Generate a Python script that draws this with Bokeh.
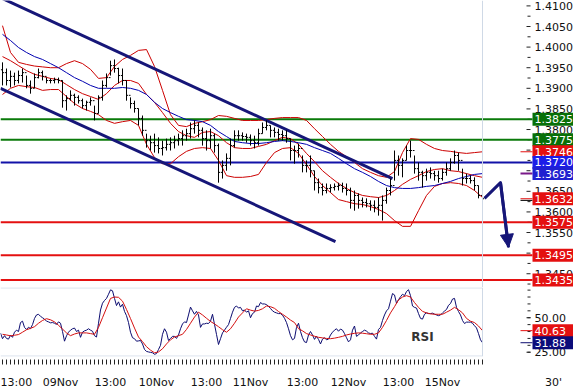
from bokeh.plotting import figure
from bokeh.models import Range1d, FixedTicker, Span, Arrow, NormalHead
from bokeh.layouts import column
from bokeh.embed import file_html
from bokeh.resources import INLINE
from bokeh.core.properties import value

FONT = "DejaVu Sans"

# ---------------- data (30-minute slots, one price bar per hour) ----------------
first_open = 1.3945
bar_high = [1.3963,1.3948,1.3943,1.3938,1.3943,1.3948,1.3931,1.3919,1.3936,1.3948,
            1.3943,1.3926,1.3924,1.3926,1.3926,1.3919,1.3883,1.3895,1.3887,1.3883,
            1.3875,1.3870,1.3878,1.3858,1.3883,1.3919,1.3936,1.3967,1.3970,1.3950,
            1.3948,1.3919,1.3878,1.3870,1.3851,1.3834,1.3790,1.3785,1.3790,1.3781,
            1.3773,1.3778,1.3781,1.3785,1.3790,1.3798,1.3802,1.3817,1.3822,1.3817,
            1.3805,1.3798,1.3802,1.3790,1.3766,1.3725,1.3742,1.3778,1.3798,1.3798,
            1.3793,1.3790,1.3788,1.3785,1.3802,1.3817,1.3822,1.3810,1.3805,1.3802,
            1.3798,1.3798,1.3778,1.3761,1.3766,1.3737,1.3725,1.3737,1.3700,1.3681,
            1.3669,1.3669,1.3667,1.3669,1.3671,1.3671,1.3669,1.3659,1.3652,1.3645,
            1.3635,1.3633,1.3628,1.3628,1.3635,1.3640,1.3659,1.3681,1.3749,1.3737,
            1.3730,1.3761,1.3773,1.3737,1.3720,1.3700,1.3705,1.3708,1.3700,1.3700,
            1.3705,1.3720,1.3730,1.3749,1.3744,1.3705,1.3693,1.3688,1.3684,1.3664,
            1.3647]
bar_low = [1.3907,1.3907,1.3902,1.3907,1.3912,1.3914,1.3900,1.3887,1.3900,1.3924,
           1.3919,1.3912,1.3912,1.3912,1.3912,1.3853,1.3846,1.3870,1.3858,1.3863,
           1.3851,1.3846,1.3858,1.3822,1.3839,1.3870,1.3902,1.3931,1.3938,1.3912,
           1.3907,1.3870,1.3851,1.3841,1.3810,1.3785,1.3756,1.3749,1.3744,1.3742,
           1.3737,1.3749,1.3749,1.3754,1.3761,1.3761,1.3773,1.3778,1.3790,1.3781,
           1.3761,1.3749,1.3754,1.3744,1.3671,1.3681,1.3700,1.3713,1.3756,1.3773,
           1.3773,1.3768,1.3761,1.3754,1.3761,1.3790,1.3798,1.3781,1.3781,1.3773,
           1.3773,1.3768,1.3725,1.3717,1.3732,1.3696,1.3696,1.3684,1.3652,1.3645,
           1.3640,1.3645,1.3647,1.3652,1.3652,1.3647,1.3640,1.3608,1.3603,1.3608,
           1.3611,1.3611,1.3603,1.3599,1.3591,1.3579,1.3620,1.3640,1.3676,1.3688,
           1.3684,1.3725,1.3732,1.3693,1.3676,1.3659,1.3676,1.3681,1.3676,1.3671,
           1.3676,1.3688,1.3700,1.3717,1.3700,1.3664,1.3669,1.3669,1.3652,1.3633,
           1.3623]
bar_close = [1.3938,1.3919,1.3929,1.3919,1.3931,1.3938,1.3907,1.3900,1.3926,1.3938,
             1.3929,1.3919,1.3919,1.3921,1.3919,1.3870,1.3875,1.3883,1.3878,1.3870,
             1.3858,1.3866,1.3870,1.3839,1.3878,1.3907,1.3926,1.3955,1.3948,1.3931,
             1.3919,1.3883,1.3863,1.3851,1.3827,1.3798,1.3773,1.3768,1.3761,1.3754,
             1.3756,1.3764,1.3768,1.3773,1.3778,1.3785,1.3790,1.3802,1.3810,1.3798,
             1.3778,1.3773,1.3785,1.3761,1.3696,1.3713,1.3730,1.3761,1.3785,1.3785,
             1.3783,1.3781,1.3773,1.3768,1.3790,1.3805,1.3810,1.3798,1.3793,1.3788,
             1.3785,1.3778,1.3749,1.3749,1.3754,1.3713,1.3713,1.3700,1.3671,1.3659,
             1.3652,1.3657,1.3659,1.3662,1.3664,1.3657,1.3652,1.3628,1.3640,1.3628,
             1.3623,1.3620,1.3616,1.3611,1.3616,1.3628,1.3652,1.3664,1.3725,1.3713,
             1.3725,1.3749,1.3749,1.3705,1.3696,1.3688,1.3696,1.3693,1.3688,1.3681,
             1.3696,1.3705,1.3720,1.3737,1.3725,1.3681,1.3681,1.3676,1.3664,1.3640,
             1.3632]

# indicator lines, read every 4th slot
upper_band = [1.4052,1.3987,1.3963,1.3958,1.3954,1.3952,1.3950,1.3950,1.3960,1.3967,
              1.3960,1.3946,1.3924,1.3926,1.3953,1.3970,1.3980,1.3992,1.3994,1.3953,
              1.3895,1.3836,1.3810,1.3807,1.3815,1.3819,1.3824,1.3834,1.3832,1.3827,
              1.3822,1.3822,1.3822,1.3824,1.3827,1.3829,1.3829,1.3829,1.3822,1.3802,
              1.3783,1.3764,1.3747,1.3734,1.3720,1.3705,1.3696,1.3688,1.3684,1.3698,
              1.3744,1.3778,1.3776,1.3764,1.3754,1.3749,1.3747,1.3744,1.3742,1.3744,
              1.3746]
mid_band = [1.3977,1.3967,1.3955,1.3943,1.3934,1.3929,1.3924,1.3921,1.3909,1.3897,
            1.3887,1.3880,1.3873,1.3887,1.3907,1.3919,1.3919,1.3912,1.3885,1.3866,
            1.3841,1.3815,1.3795,1.3785,1.3781,1.3793,1.3795,1.3785,1.3768,1.3756,
            1.3754,1.3754,1.3759,1.3764,1.3773,1.3781,1.3778,1.3764,1.3742,1.3722,
            1.3700,1.3684,1.3669,1.3657,1.3647,1.3640,1.3637,1.3635,1.3640,1.3652,
            1.3667,1.3679,1.3688,1.3698,1.3703,1.3705,1.3700,1.3698,1.3693,1.3688,
            1.3684]
lower_band = [1.3885,1.3900,1.3907,1.3904,1.3902,1.3895,1.3897,1.3897,1.3880,1.3863,
              1.3851,1.3844,1.3836,1.3822,1.3815,1.3819,1.3822,1.3810,1.3764,1.3732,
              1.3717,1.3717,1.3734,1.3747,1.3754,1.3756,1.3754,1.3725,1.3688,1.3684,
              1.3684,1.3686,1.3691,1.3720,1.3744,1.3754,1.3756,1.3742,1.3715,1.3686,
              1.3664,1.3647,1.3630,1.3625,1.3620,1.3618,1.3613,1.3606,1.3596,1.3579,
              1.3565,1.3565,1.3603,1.3640,1.3662,1.3669,1.3671,1.3669,1.3664,1.3652,
              1.3635]
ma_line = [1.4031,1.4016,1.3999,1.3987,1.3977,1.3970,1.3960,1.3950,1.3938,1.3926,
           1.3917,1.3907,1.3900,1.3900,1.3900,1.3902,1.3900,1.3895,1.3885,1.3866,
           1.3851,1.3841,1.3832,1.3824,1.3822,1.3819,1.3810,1.3795,1.3783,1.3771,
           1.3768,1.3766,1.3766,1.3768,1.3771,1.3773,1.3771,1.3768,1.3764,1.3756,
           1.3749,1.3742,1.3730,1.3717,1.3705,1.3696,1.3686,1.3674,1.3664,1.3659,
           1.3657,1.3657,1.3659,1.3662,1.3664,1.3669,1.3674,1.3681,1.3686,1.3691,
           1.3693]

# RSI (every slot) and its signal line (every 2nd slot)
rsi_values = [38.9,34.8,37.0,35.0,34.5,37.3,35.8,39.5,41.0,40.0,
              46.5,47.5,43.0,41.5,43.1,42.1,45.0,49.5,52.0,52.5,
              51.0,50.0,49.0,47.5,47.0,46.3,46.5,46.0,45.2,47.0,
              46.0,40.0,33.0,36.9,39.5,41.0,42.0,42.5,40.0,41.0,
              35.8,39.5,40.5,41.0,42.0,41.0,40.2,37.0,36.0,46.0,
              55.6,60.5,62.5,64.0,67.0,70.2,69.5,64.0,58.8,61.5,
              57.7,59.8,54.6,51.5,46.5,39.5,35.5,34.8,33.0,33.2,
              33.5,31.0,27.0,25.6,25.2,24.9,24.6,23.5,24.0,27.0,
              30.0,38.0,42.0,39.5,33.5,35.0,36.5,36.5,35.0,37.5,
              42.0,45.5,47.0,46.5,52.0,57.7,55.0,52.5,54.6,52.0,
              43.0,45.5,45.5,46.0,45.8,47.5,52.5,45.2,37.9,30.6,
              34.8,39.0,41.0,43.1,45.0,49.5,54.0,57.5,58.5,57.0,
              57.5,55.0,55.6,54.0,55.0,50.0,53.0,54.0,58.5,58.0,
              61.0,60.0,60.0,59.5,58.3,56.7,55.0,54.0,53.5,53.0,
              53.0,51.8,49.6,46.5,42.0,37.0,34.0,35.0,43.0,46.0,
              40.0,35.5,32.5,32.0,37.5,40.0,37.5,34.3,36.5,34.3,
              31.0,34.5,35.5,34.0,34.5,37.5,39.5,41.0,42.0,40.2,
              41.8,41.0,38.5,35.5,32.5,34.0,41.0,44.0,36.5,37.5,
              39.0,40.0,41.0,40.3,39.0,38.5,38.8,36.5,34.5,41.5,
              43.0,48.0,52.0,55.0,56.5,62.0,67.5,66.5,60.5,63.0,
              65.2,67.0,66.0,69.0,70.3,66.0,58.5,57.5,57.0,53.0,
              49.5,49.0,52.5,53.5,53.0,53.0,53.3,52.6,52.0,51.5,
              52.0,53.5,54.8,56.0,59.0,60.3,63.5,64.0,57.5,54.5,
              52.0,48.0,45.8,46.8,46.8,46.8,46.0,44.2,42.6,38.5,
              34.0,31.88]
rsi_signal = [38.0,37.5,36.9,37.3,37.8,39.5,41.3,42.3,43.5,46.0,
              48.0,49.3,48.5,47.0,44.5,41.8,39.0,37.0,38.2,39.0,
              39.0,39.0,38.5,38.0,43.0,50.0,57.0,64.0,65.0,64.8,
              62.0,56.0,49.4,42.5,36.0,32.7,29.0,26.5,24.6,25.2,
              27.5,31.0,34.0,36.0,37.0,38.0,41.5,46.0,50.5,54.0,
              52.0,49.6,47.3,45.5,43.5,41.3,39.5,42.0,46.0,50.5,
              53.5,56.5,55.5,54.8,55.3,56.5,58.5,58.0,56.8,54.5,
              52.5,50.5,48.3,46.5,42.1,40.5,38.5,37.5,36.6,35.8,
              35.4,35.0,34.8,35.2,35.8,36.5,37.5,38.2,38.7,39.0,
              38.8,38.4,38.0,38.0,39.0,43.0,48.0,53.5,58.0,62.9,
              65.0,66.0,65.0,61.0,57.5,54.6,53.5,52.8,52.5,52.5,
              52.5,54.0,55.5,57.5,55.8,53.5,49.5,47.5,46.5,44.0,
              40.63]

# support / resistance levels and last values
resistance_levels = [1.3825, 1.3775]
pivot_level = 1.3720
support_levels = [1.3575, 1.3495, 1.3435]
upper_band_last = 1.3746
ma_last = 1.3693
last_price = 1.3632

# trend channel (slot, price) end points
channel_upper_x = [0, 196]
channel_upper_y = [1.4120, 1.3681]
channel_lower_x = [0, 167.5]
channel_lower_y = [1.3900, 1.3528]

# forecast path (slot, price)
forecast_x = [242, 250, 254]
forecast_y = [1.3633, 1.3671, 1.3514]

# time axis
time_tick_slots = [6, 30, 55, 78, 103, 125, 151, 174, 199, 221, 276.5]
time_tick_labels = ["13:00", "09Nov", "13:00", "10Nov", "13:00", "11Nov",
                    "13:00", "12Nov", "13:00", "15Nov", "30'"]
last_slot = 241
price_ticks = [1.3450, 1.3500, 1.3550, 1.3600, 1.3650, 1.3700, 1.3750,
               1.3800, 1.3850, 1.3900, 1.3950, 1.4000, 1.4050, 1.4100]
price_minor_ticks = [1.3425, 1.3475, 1.3525, 1.3575, 1.3625, 1.3675, 1.3725,
                     1.3775, 1.3825, 1.3875, 1.3925, 1.3975, 1.4025, 1.4075, 1.4125]
rsi_ticks = [25, 50]
rsi_minor_ticks = [25, 30, 35, 40, 45, 50, 55, 60, 65, 70]
rsi_last = 31.88
signal_last = 40.63
rsi_text_at = (211, 36.3)

# ---------------- derived x positions ----------------
bar_x = [2 * i + 1 for i in range(len(bar_close))]
bar_open = [first_open] + bar_close[:-1]
band_x = [4 * k + 1 for k in range(len(upper_band))]
rsi_x = list(range(len(rsi_values)))
sig_x = [2 * k + 1 for k in range(len(rsi_signal))]

NAVY = "#161678"
GREEN = "#0a7a0a"
RED = "#e41010"

SCALE_TICK_X0 = 263      # right-hand scale: tick marks and labels (slots)
SCALE_LABEL_X = 267
BOX_X = 276.25
LEVEL_END = 266

x_range = Range1d(0, 286.5)


def right_scale(fig, ticks, minor, fmt):
    fig.segment(x0=[SCALE_TICK_X0] * len(ticks), y0=ticks, x1=[SCALE_TICK_X0 + 2] * len(ticks),
                y1=ticks, line_color="#222222", line_width=1)
    fig.segment(x0=[SCALE_TICK_X0 + 0.5] * len(minor), y0=minor, x1=[SCALE_TICK_X0 + 2] * len(minor),
                y1=minor, line_color="#222222", line_width=1)
    fig.text(x=[SCALE_LABEL_X] * len(ticks), y=ticks, text=[fmt % t for t in ticks],
             text_font=value(FONT), text_font_size="11px", text_color="#111111",
             text_align="left", text_baseline="middle")


def value_box(fig, y, text, color):
    fig.rect(x=[BOX_X], y=[y], width=41, height=13, width_units="screen",
             height_units="screen", fill_color=color, line_color=None)
    fig.text(x=[SCALE_LABEL_X], y=[y], text=[text], text_font=value(FONT),
             text_font_size="11px", text_color="white", text_align="left",
             text_baseline="middle")


# ---------------- main price panel ----------------
p = figure(width=573, height=287, x_range=x_range, y_range=Range1d(1.34166, 1.41131),
           x_axis_location=None, y_axis_location=None, toolbar_location=None,
           output_backend="svg", min_border=0)
p.outline_line_color = None
p.grid.visible = False

right_scale(p, price_ticks, price_minor_ticks, "%.4f")

p.add_layout(Span(location=last_slot, dimension="height", line_color="#cfd9e6", line_width=1))

# horizontal levels
for lv in resistance_levels:
    p.segment(x0=[0], y0=[lv], x1=[LEVEL_END], y1=[lv], line_color=GREEN, line_width=2)
p.segment(x0=[0], y0=[pivot_level], x1=[LEVEL_END], y1=[pivot_level], line_color="#1212a8", line_width=2)
for lv in support_levels:
    p.segment(x0=[0], y0=[lv], x1=[LEVEL_END], y1=[lv], line_color=RED, line_width=2)

# bands and moving average
p.line(band_x, upper_band, line_color="#cc0000", line_width=1)
p.line(band_x, mid_band, line_color="#cc0000", line_width=1)
p.line(band_x, lower_band, line_color="#cc0000", line_width=1)
p.line(band_x, ma_line, line_color="#0000b0", line_width=1)

# trend channel
p.line(channel_upper_x, channel_upper_y, line_color=NAVY, line_width=3)
p.line(channel_lower_x, channel_lower_y, line_color=NAVY, line_width=3)

# OHLC bars
p.segment(x0=bar_x, y0=bar_low, x1=bar_x, y1=bar_high, line_color="black", line_width=1)
p.segment(x0=[x - 0.8 for x in bar_x], y0=bar_open, x1=bar_x, y1=bar_open,
          line_color="black", line_width=1)
p.segment(x0=bar_x, y0=bar_close, x1=[x + 0.8 for x in bar_x], y1=bar_close,
          line_color="black", line_width=1)

# value markers next to the scale
p.segment(x0=[260], y0=[upper_band_last], x1=[266], y1=[upper_band_last], line_color=RED, line_width=1)
p.segment(x0=[260], y0=[ma_last], x1=[266], y1=[ma_last], line_color="#7a1a8a", line_width=2)
p.segment(x0=[260], y0=[last_price], x1=[266], y1=[last_price], line_color=RED, line_width=1)
p.segment(x0=[260], y0=[last_price - 0.0004], x1=[266], y1=[last_price - 0.0004],
          line_color="black", line_width=1)

# forecast arrow
p.line(forecast_x, forecast_y, line_color=NAVY, line_width=3, line_join="round")
p.add_layout(Arrow(end=NormalHead(size=13, fill_color=NAVY, line_color=NAVY),
                   x_start=forecast_x[1], y_start=forecast_y[1],
                   x_end=forecast_x[2], y_end=forecast_y[2],
                   line_color=NAVY, line_width=3))

value_box(p, resistance_levels[0], "%.4f" % resistance_levels[0], "#087008")
value_box(p, resistance_levels[1], "%.4f" % resistance_levels[1], "#087008")
value_box(p, upper_band_last, "%.4f" % upper_band_last, RED)
value_box(p, pivot_level, "%.4f" % pivot_level, "#1c1ce8")
value_box(p, ma_last, "%.4f" % ma_last, "#2020d0")
value_box(p, last_price, "%.4f" % last_price, RED)
for lv in support_levels:
    value_box(p, lv, "%.4f" % lv, RED)

# ---------------- RSI panel ----------------
r = figure(width=573, height=104, x_range=x_range, y_range=Range1d(21.9, 71.9),
           y_axis_location=None, toolbar_location=None, output_backend="svg",
           min_border_left=0, min_border_right=0, min_border_top=0, min_border_bottom=24)
r.outline_line_color = None
r.grid.visible = False

xa = r.xaxis[0]
xa.ticker = FixedTicker(ticks=time_tick_slots, minor_ticks=list(range(1, last_slot + 1, 2)))
xa.major_label_overrides = {s: l for s, l in zip(time_tick_slots, time_tick_labels)}
xa.axis_line_color = None
xa.major_tick_in = 0
xa.major_tick_out = 0
xa.minor_tick_in = -3
xa.minor_tick_out = 8
xa.minor_tick_line_color = "#222222"
xa.major_label_standoff = 11
xa.major_label_text_font = FONT
xa.major_label_text_font_size = "11px"
xa.major_label_text_color = "#111111"

right_scale(r, rsi_ticks, rsi_minor_ticks, "%.2f")

r.add_layout(Span(location=last_slot, dimension="height", line_color="#cfd9e6", line_width=1))
r.segment(x0=[0, 0], y0=[71.6, 22.2], x1=[last_slot, last_slot], y1=[71.6, 22.2],
          line_color="#cfd9e6", line_width=1)

r.line(rsi_x, rsi_values, line_color="#0c0c70", line_width=1)
r.line(sig_x, rsi_signal, line_color="#d41010", line_width=1)

r.segment(x0=[260], y0=[signal_last], x1=[266], y1=[signal_last], line_color=RED, line_width=1)
r.segment(x0=[260], y0=[rsi_last], x1=[266], y1=[rsi_last], line_color="#0c0c70", line_width=1)

r.text(x=[rsi_text_at[0]], y=[rsi_text_at[1]], text=["RSI"], text_font=value(FONT),
       text_font_size="12px", text_font_style="bold", text_color="#333333",
       text_align="center", text_baseline="middle")

value_box(r, signal_last, "%.2f" % signal_last, RED)
value_box(r, rsi_last, "%.2f" % rsi_last, "#0c0c7a")

layout = column(p, r, spacing=0)
open("out.html", "w").write(file_html(layout, INLINE))
